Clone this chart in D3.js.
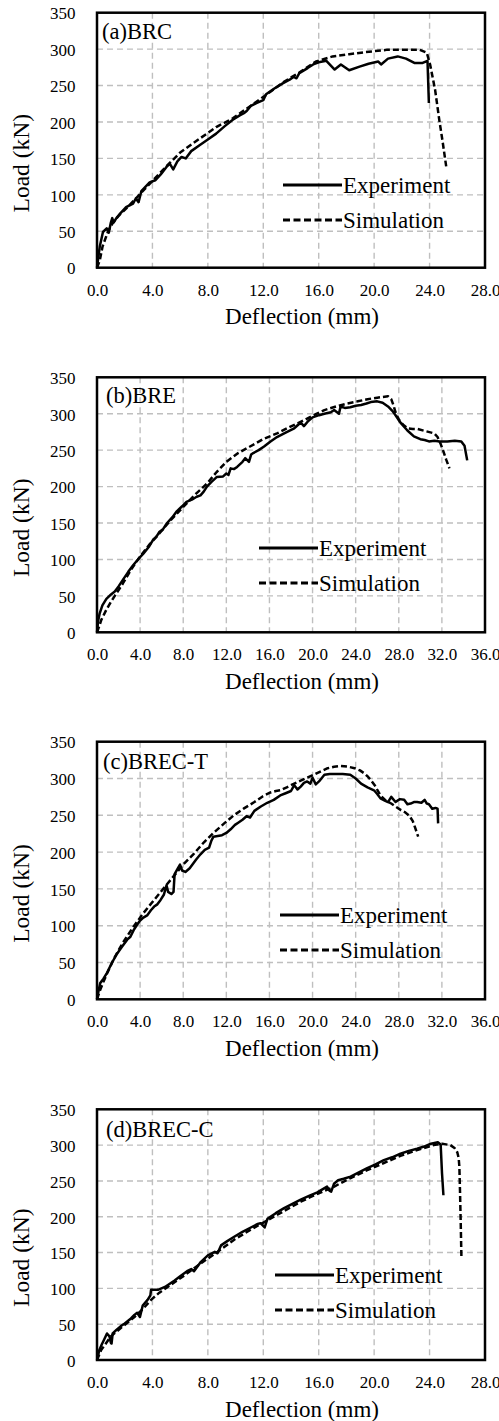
<!DOCTYPE html>
<html>
<head>
<meta charset="utf-8">
<script src="https://cdn.jsdelivr.net/npm/d3@7"></script>
<style>
body { margin: 0; background: #fff; }
svg { display: block; }
</style>
</head>
<body>
<div id="chart"></div>
<script>
// load / deflection curves, [deflection mm, load kN]
var brcExp = [[0,0],[0.1,15],[0.2,29],[0.43,49],[0.7,54],[0.85,48],[1.0,62],[1.1,68],[1.2,62],[1.4,68],[1.7,75],[2.1,83],[2.6,88],[2.8,95],[3.0,90],[3.2,105],[3.8,117],[4.2,120],[4.6,128],[5.0,138],[5.25,143],[5.5,135],[5.8,146],[6.1,152],[6.4,150],[6.8,160],[7.4,168],[8.0,176],[8.6,184],[9.2,194],[9.8,203],[10.3,209],[10.6,212],[10.8,215],[11.1,222],[11.5,226],[12.0,230],[12.2,238],[12.8,246],[13.4,253],[13.9,258],[14.2,262],[14.4,260],[14.6,267],[15.2,274],[15.6,279],[16.0,282],[16.55,284],[17.15,272],[17.6,279],[18.2,271],[18.95,276],[19.6,280],[20.3,283],[20.5,279],[21.0,287],[21.7,290],[22.3,287],[22.9,281],[23.5,281],[23.85,284],[23.95,226]];
var brcSim = [[0,0],[0.2,10],[0.4,29],[0.8,50],[1.15,62],[1.6,72],[2.1,81],[3.0,99],[3.8,115],[5.0,139],[6.0,158],[7.4,177],[8.6,193],[9.8,205],[11.0,221],[12.2,237],[13.4,254],[14.6,268],[15.8,283],[17.0,290],[18.2,293],[19.4,296],[20.9,299],[22.2,299],[23.3,299],[23.8,295],[24.05,278],[24.4,244],[24.7,203],[24.95,172],[25.2,139]];

var breExp = [[0,0],[0.1,15],[0.25,26],[0.5,37],[0.87,46],[1.3,52],[1.65,56],[2.0,63],[2.4,72],[2.9,83],[3.35,92],[3.8,100],[4.3,108],[4.8,117],[5.2,127],[5.5,131],[5.8,138],[6.1,141],[6.5,150],[7.0,158],[7.4,166],[7.9,173],[8.3,179],[8.8,182],[9.25,186],[9.6,188],[9.9,193],[10.2,200],[10.6,206],[11.1,213],[11.7,214],[12.0,218],[12.2,216],[12.4,225],[12.7,224],[13.0,227],[13.5,234],[13.75,239],[14.1,234],[14.3,244],[14.5,246],[15.0,250],[15.5,255],[16.1,262],[16.7,268],[17.5,274],[18.3,280],[18.9,288],[19.2,283],[19.6,290],[20.0,295],[20.6,298],[21.1,300],[21.7,302],[22.0,305],[22.45,300],[22.6,310],[23.0,308],[23.5,309],[24.0,311],[24.5,312],[25.0,314],[25.4,316],[26.0,317],[26.5,315],[27.0,310],[27.4,304],[27.7,298],[28.2,287],[28.8,277],[29.4,269],[30.0,265],[30.4,264],[30.8,262],[31.3,263],[31.8,262],[32.5,262],[33.2,263],[33.8,262],[34.1,256],[34.35,236]];
var breSim = [[0,0],[0.2,8],[0.4,17],[0.87,31],[1.3,42],[1.65,50],[2.4,67],[3.2,87],[4.0,104],[4.9,121],[5.8,136],[6.9,155],[8.0,172],[9.1,189],[10.2,204],[11.1,220],[12.0,234],[13.1,246],[14.2,255],[15.4,265],[16.7,273],[17.9,282],[19.2,291],[20.1,298],[21.1,305],[22.2,310],[23.2,314],[24.2,317],[25.1,320],[26.0,322],[27.0,324],[27.3,320],[27.5,312],[27.7,302],[28.0,292],[28.4,285],[28.8,280],[29.3,279],[29.75,279],[30.5,276],[31.3,273],[31.6,268],[31.9,258],[32.1,250],[32.4,237],[32.7,225]];

var brecTExp = [[0,0],[0.15,12],[0.3,22],[0.6,28],[0.93,36],[1.4,50],[1.86,62],[2.3,71],[2.8,81],[3.1,85],[3.4,94],[3.7,101],[4.0,107],[4.3,111],[4.65,114],[5.0,121],[5.3,126],[5.6,129],[5.9,135],[6.2,142],[6.45,155],[6.6,146],[6.9,143],[7.1,146],[7.2,170],[7.5,178],[7.7,183],[7.9,175],[8.2,173],[8.6,178],[9.2,190],[9.6,197],[10.0,203],[10.4,206],[10.6,215],[10.8,221],[11.2,222],[11.6,223],[12.0,226],[12.4,231],[12.8,237],[13.1,240],[13.5,244],[13.9,249],[14.2,247],[14.6,256],[15.2,262],[15.8,267],[16.4,271],[17.0,277],[17.5,280],[18.0,283],[18.3,291],[18.6,285],[18.9,289],[19.2,294],[19.5,296],[19.8,293],[20.0,301],[20.3,292],[20.6,296],[21.1,305],[21.6,306],[22.0,306],[22.8,306],[23.5,305],[24.0,300],[24.5,293],[25.1,288],[25.7,284],[26.0,279],[26.3,273],[26.7,270],[27.0,268],[27.3,275],[27.7,268],[28.1,272],[28.5,271],[28.8,265],[29.1,266],[29.4,268],[29.7,268],[30.1,267],[30.4,271],[30.6,266],[30.8,265],[31.1,259],[31.4,260],[31.6,259],[31.65,239]];
var brecTSim = [[0,0],[0.3,13],[0.6,24],[0.93,35],[1.6,56],[2.4,77],[3.4,99],[4.3,117],[5.3,135],[6.2,151],[7.1,167],[8.0,183],[9.0,198],[9.9,213],[10.8,226],[11.8,239],[12.7,250],[13.6,259],[14.6,268],[15.4,276],[16.1,281],[16.6,283],[17.0,284],[17.6,288],[18.3,293],[19.2,299],[20.1,305],[20.8,310],[21.4,314],[22.0,316],[22.6,317],[23.3,316],[23.9,314],[24.4,311],[24.8,307],[25.1,303],[25.4,298],[25.8,290],[26.3,277],[26.8,270],[27.3,266],[27.8,261],[28.2,257],[28.6,254],[29.0,249],[29.3,242],[29.5,234],[29.8,221]];

var brecCExp = [[0,0],[0.17,14],[0.35,22],[0.5,28],[0.72,37],[0.9,33],[1.0,24],[1.05,23],[1.13,37],[1.4,42],[1.7,47],[2.0,51],[2.45,58],[2.7,63],[2.9,66],[3.1,60],[3.3,76],[3.65,84],[3.85,90],[3.9,98],[4.4,98],[4.9,102],[5.6,111],[6.0,117],[6.5,124],[6.8,127],[7.0,124],[7.5,137],[8.0,146],[8.5,151],[8.7,149],[8.95,160],[9.4,166],[9.9,172],[10.5,179],[11.1,185],[11.6,190],[11.8,191],[12.1,185],[12.3,197],[12.9,205],[13.5,212],[14.1,218],[14.7,224],[15.3,229],[15.9,234],[16.6,242],[16.8,236],[16.9,235],[17.1,246],[17.4,251],[17.8,253],[18.3,256],[18.9,262],[19.5,268],[20.1,273],[20.7,279],[21.3,283],[21.9,288],[22.5,292],[23.1,295],[23.6,298],[24.1,302],[24.6,304],[24.8,301],[24.9,260],[25.0,230]];
var brecCSim = [[0,0],[0.3,14],[0.6,22],[1.0,33],[1.8,46],[2.7,60],[3.3,71],[3.9,84],[4.5,94],[5.1,102],[6.3,118],[7.5,135],[8.7,151],[9.9,168],[11.1,182],[12.3,195],[13.5,208],[14.7,221],[15.8,231],[16.9,240],[17.6,247],[18.3,254],[19.5,265],[20.7,275],[21.9,285],[23.1,293],[24.3,300],[24.9,302],[25.5,300],[25.8,296],[26.0,290],[26.1,282],[26.15,270],[26.2,233],[26.25,190],[26.3,142]];

var yTicks = [0, 50, 100, 150, 200, 250, 300, 350];
var xTicks28 = [0, 4, 8, 12, 16, 20, 24, 28];
var xTicks36 = [0, 4, 8, 12, 16, 20, 24, 28, 32, 36];
var seriesNames = ["Experiment", "Simulation"];

// layout of the four stacked panels
var panels = [
    {label: "(a)BRC",    exp: brcExp,   sim: brcSim,   xt: xTicks28, top: 12.7,   h: 255,   labX: 102, labY: 39,   legX: 283, legY: 185},
    {label: "(b)BRE",    exp: breExp,   sim: breSim,   xt: xTicks36, top: 377.3,  h: 255,   labX: 106, labY: 403,  legX: 259, legY: 548},
    {label: "(c)BREC-T", exp: brecTExp, sim: brecTSim, xt: xTicks36, top: 741.7,  h: 257.6, labX: 103, labY: 769,  legX: 280, legY: 915},
    {label: "(d)BREC-C", exp: brecCExp, sim: brecCSim, xt: xTicks28, top: 1109.3, h: 250.7, labX: 106, labY: 1137, legX: 275, legY: 1275}
];

var W = 499, H = 1421, left = 97, right = 485;
var FONT = "'Liberation Serif', 'Times New Roman', serif";

function txt(sel, size) {
    return sel.style("font-family", FONT).style("font-size", size + "px").attr("fill", "#000");
}

function drawPanel(svg, p) {
    var x = d3.scaleLinear().domain([0, d3.max(p.xt)]).range([left, right]);
    var y = d3.scaleLinear().domain([0, 350]).range([p.top + p.h, p.top]);
    var g = svg.append("g");

    // dashed grid
    g.selectAll(".hgrid").data(yTicks.slice(1, -1)).enter().append("line")
        .attr("x1", left).attr("x2", right)
        .attr("y1", function(d){ return y(d); }).attr("y2", function(d){ return y(d); })
        .attr("stroke", "#bfbfbf").attr("stroke-width", 1.4).attr("stroke-dasharray", "6,4");
    g.selectAll(".vgrid").data(p.xt.slice(1, -1)).enter().append("line")
        .attr("y1", p.top).attr("y2", p.top + p.h)
        .attr("x1", function(d){ return x(d); }).attr("x2", function(d){ return x(d); })
        .attr("stroke", "#bfbfbf").attr("stroke-width", 1.4).attr("stroke-dasharray", "6,4");

    // axes (labels only, no tick marks)
    var ya = g.append("g").attr("transform", "translate(" + left + ",0)")
        .call(d3.axisLeft(y).tickValues(yTicks).tickSize(0).tickPadding(21.5).tickFormat(d3.format("d")));
    var xa = g.append("g").attr("transform", "translate(0," + (p.top + p.h) + ")")
        .call(d3.axisBottom(x).tickValues(p.xt).tickSize(0).tickPadding(16).tickFormat(d3.format(".1f")));
    [ya, xa].forEach(function(a){
        a.select(".domain").remove();
        txt(a.selectAll("text"), 17);
    });
    ya.selectAll("text").attr("dy", "0.37em");

    var line = d3.line().x(function(d){ return x(d[0]); }).y(function(d){ return y(d[1]); });
    g.append("path").datum(p.sim).attr("d", line)
        .attr("fill", "none").attr("stroke", "#000").attr("stroke-width", 2.5)
        .attr("stroke-dasharray", "6,3").attr("stroke-linejoin", "round");
    g.append("path").datum(p.exp).attr("d", line)
        .attr("fill", "none").attr("stroke", "#000").attr("stroke-width", 2.5)
        .attr("stroke-linejoin", "round");

    // frame
    g.append("rect").attr("x", left).attr("y", p.top).attr("width", right - left).attr("height", p.h)
        .attr("fill", "none").attr("stroke", "#000").attr("stroke-width", 2.5);

    txt(g.append("text").attr("x", p.labX).attr("y", p.labY), 22.5).text(p.label);

    // legend
    seriesNames.forEach(function(name, i){
        var ly = p.legY + i * 35;
        g.append("line").attr("x1", p.legX).attr("x2", p.legX + 59).attr("y1", ly).attr("y2", ly)
            .attr("stroke", "#000").attr("stroke-width", 2.8)
            .attr("stroke-dasharray", i == 1 ? "7,3.5" : null);
        txt(g.append("text").attr("x", p.legX + 60).attr("y", ly + 8), 23).text(name);
    });

    txt(g.append("text").attr("x", 302).attr("y", p.top + p.h + 56.5)
        .attr("text-anchor", "middle"), 23).text("Deflection (mm)");
    var cy = p.top + p.h / 2 + 23;
    txt(g.append("text").attr("transform", "translate(29," + cy + ") rotate(-90)")
        .attr("text-anchor", "middle"), 23.5).text("Load (kN)");
}

function draw() {
    var svg = d3.select("#chart").append("svg").attr("width", W).attr("height", H);
    svg.append("rect").attr("width", W).attr("height", H).attr("fill", "#fff");
    panels.forEach(function(p){ drawPanel(svg, p); });
}
draw();
</script>
</body>
</html>
